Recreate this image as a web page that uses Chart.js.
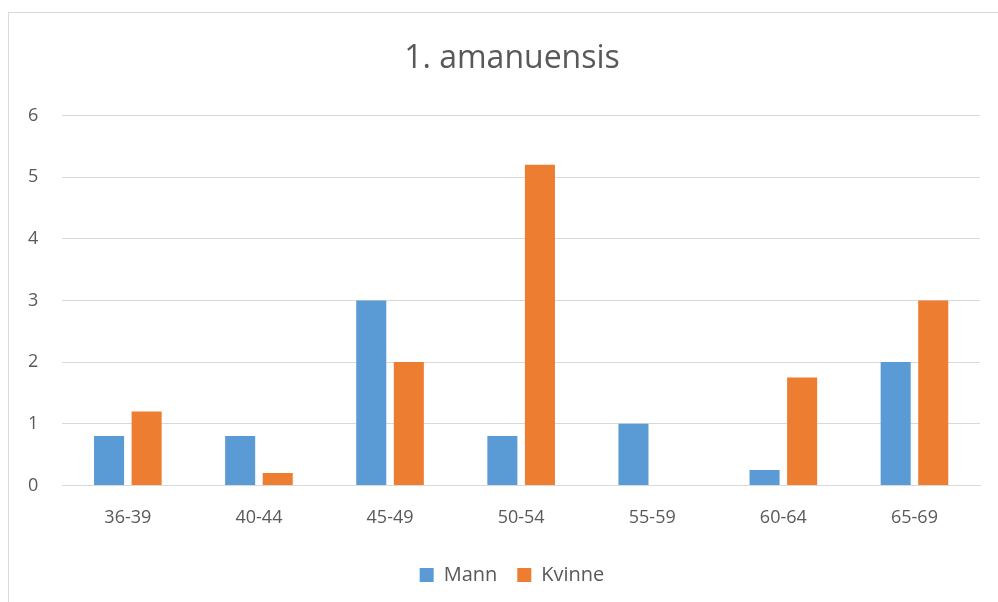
<!DOCTYPE html>
<html>
<head>
<meta charset="utf-8">
<script src="https://cdn.jsdelivr.net/npm/chart.js@4"></script>
<style>
  html, body { margin: 0; padding: 0; background: #fff; }
  #wrap { position: relative; width: 998px; height: 602px; overflow: hidden; }
  #frame { position: absolute; left: 8px; top: 12px; width: 1200px; height: 800px;
           border-left: 1px solid #d9d9d9; border-top: 1px solid #d9d9d9; }
  canvas { position: absolute; left: 0; top: 0; }
</style>
</head>
<body>
<div id="wrap">
  <div id="frame"></div>
  <canvas id="c" width="998" height="602"></canvas>
</div>
<script>
// Age groups and head counts per gender
const ageGroups = ["36-39", "40-44", "45-49", "50-54", "55-59", "60-64", "65-69"];
const mann      = [0.8, 0.8, 3, 0.8, 1, 0.25, 2];
const kvinne    = [1.2, 0.2, 2, 5.2, 0, 1.75, 3];
const yTicks    = [0, 1, 2, 3, 4, 5, 6];

const textColor = "#595959";
const gridColor = "#d9d9d9";
const fontFamily = "'Open Sans', 'Liberation Sans', sans-serif";

// Centre the title and legend across the whole framed panel rather than the plot box
const centreOnPanel = {
  id: "centreOnPanel",
  afterLayout(chart) {
    const panelLeft = 26, panelRight = 998;
    if (chart.titleBlock) {
      chart.titleBlock.left = panelLeft;
      chart.titleBlock.right = panelRight;
    }
    if (chart.legend) {
      const shift = (panelLeft + panelRight) / 2 - (chart.legend.left + chart.legend.right) / 2;
      chart.legend.left += shift;
      chart.legend.right += shift;
      chart.legend.top += 2;
      chart.legend.bottom += 2;
    }
  }
};

new Chart(document.getElementById("c"), {
  type: "bar",
  data: {
    labels: ageGroups,
    datasets: [
      { label: "Mann", data: mann, backgroundColor: "#5B9BD5",
        categoryPercentage: 0.573, barPercentage: 0.8 },
      { label: "Kvinne", data: kvinne, backgroundColor: "#ED7D31",
        categoryPercentage: 0.573, barPercentage: 0.8 }
    ]
  },
  plugins: [centreOnPanel],
  options: {
    responsive: false,
    animation: false,
    layout: { padding: { left: 4, right: 18, top: 0, bottom: 9 } },
    plugins: {
      title: {
        display: true,
        text: "1. amanuensis",
        color: textColor,
        font: { family: fontFamily, size: 32, weight: "normal" },
        padding: { top: 40, bottom: 37 }
      },
      legend: {
        position: "bottom",
        labels: {
          color: textColor,
          font: { family: fontFamily, size: 20 },
          boxWidth: 14, boxHeight: 14,
          padding: 20
        }
      },
      tooltip: { enabled: false }
    },
    scales: {
      x: {
        grid: { display: false },
        border: { display: true, color: gridColor },
        ticks: { color: textColor, font: { family: fontFamily, size: 18 }, padding: 14 }
      },
      y: {
        min: 0, max: 6,
        afterBuildTicks: (axis) => { axis.ticks = yTicks.map(v => ({ value: v })); },
        grid: { color: gridColor, drawTicks: false },
        border: { display: false },
        ticks: { color: textColor, font: { family: fontFamily, size: 18 }, padding: 24 }
      }
    }
  }
});
</script>
</body>
</html>
